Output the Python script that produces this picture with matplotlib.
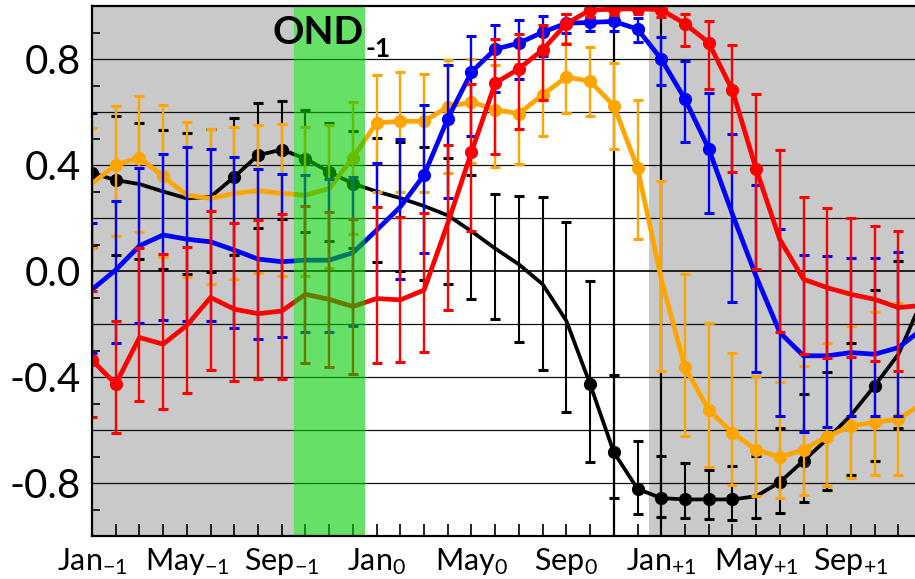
import numpy as np
import matplotlib
matplotlib.use("Agg")
import matplotlib.pyplot as plt

plt.rcParams['font.family'] = ['Lato', 'DejaVu Sans']
plt.rcParams['mathtext.fontset'] = 'custom'
plt.rcParams['mathtext.rm'] = 'Lato'
plt.rcParams['mathtext.it'] = 'Lato:italic'
plt.rcParams['mathtext.bf'] = 'Lato:bold'

# month axis: 0 = Jan(-1) ... 35 = Dec(+1)
tick_months = [0, 4, 8, 12, 16, 20, 24, 28, 32]
tick_labels = ['Jan$_{-1}$', 'May$_{-1}$', 'Sep$_{-1}$',
               'Jan$_{0}$', 'May$_{0}$', 'Sep$_{0}$',
               'Jan$_{+1}$', 'May$_{+1}$', 'Sep$_{+1}$']
y_ticks = [-0.8, -0.4, 0.0, 0.4, 0.8]
y_tick_labels = ['-0.8', '-0.4', '0.0', '0.4', '0.8']

# correlation curves (36 months) with lower/upper confidence bounds (35 months)
black_val = [0.37, 0.343, 0.328, 0.30, 0.274, 0.28, 0.355, 0.437, 0.458, 0.424,
             0.374, 0.33, 0.30, 0.275, 0.245, 0.21, 0.15, 0.085, 0.025, -0.05,
             -0.188, -0.427, -0.684, -0.822, -0.857, -0.862, -0.862, -0.862, -0.85, -0.797,
             -0.716, -0.634, -0.544, -0.433, -0.314, -0.11]
black_lo = [0.09, 0.06, 0.045, 0.006, -0.01, -0.003, 0.06, 0.161, 0.195, 0.148,
            0.114, 0.085, 0.035, 0.001, -0.035, -0.05, -0.107, -0.182, -0.267, -0.373,
            -0.531, -0.72, -0.857, -0.917, -0.929, -0.933, -0.935, -0.938, -0.933, -0.913,
            -0.873, -0.825, -0.77, -0.717, -0.594]
black_hi = [0.596, 0.584, 0.56, 0.531, 0.519, 0.537, 0.579, 0.634, 0.641, 0.606,
            0.56, 0.527, 0.503, 0.485, 0.468, 0.427, 0.362, 0.291, 0.282, 0.28,
            0.186, -0.038, -0.391, -0.643, -0.699, -0.724, -0.75, -0.734, -0.697, -0.594,
            -0.466, -0.38, -0.27, -0.073, 0.038]
black_sig = [0, 1, 6, 7, 8, 9, 10, 11, 21, 22, 23, 24, 25, 26, 27, 29, 30, 33]

orange_val = [0.33, 0.40, 0.428, 0.357, 0.286, 0.274, 0.293, 0.303, 0.293, 0.286,
              0.311, 0.428, 0.559, 0.565, 0.565, 0.619, 0.638, 0.609, 0.594, 0.665,
              0.732, 0.716, 0.624, 0.389, -0.03, -0.364, -0.524, -0.611, -0.674, -0.703,
              -0.674, -0.625, -0.584, -0.571, -0.559, -0.50]
orange_lo = [0.085, 0.133, 0.148, 0.054, -0.021, -0.049, -0.03, -0.009, -0.018, -0.02,
             0.01, 0.139, 0.30, 0.30, 0.297, 0.368, 0.408, 0.392, 0.402, 0.508,
             0.596, 0.584, 0.462, 0.119, -0.377, -0.621, -0.741, -0.807, -0.85, -0.857,
             -0.845, -0.81, -0.781, -0.77, -0.77]
orange_hi = [0.54, 0.621, 0.66, 0.625, 0.562, 0.537, 0.544, 0.55, 0.554, 0.544,
             0.55, 0.638, 0.741, 0.75, 0.742, 0.795, 0.80, 0.778, 0.78, 0.82,
             0.86, 0.847, 0.785, 0.647, 0.339, -0.011, -0.195, -0.308, -0.398, -0.418,
             -0.36, -0.272, -0.207, -0.154, -0.122]
orange_sig = [1, 2, 3, 11, 12, 13, 14, 15, 16, 17, 18, 19, 20, 21, 22, 23,
              25, 26, 27, 28, 29, 30, 31, 32, 33, 34]

blue_val = [-0.07, 0.004, 0.095, 0.136, 0.12, 0.11, 0.079, 0.045, 0.035, 0.041,
            0.041, 0.069, 0.154, 0.242, 0.362, 0.575, 0.751, 0.837, 0.86, 0.901,
            0.935, 0.938, 0.942, 0.913, 0.80, 0.649, 0.462, 0.215, -0.02, -0.232,
            -0.32, -0.32, -0.308, -0.314, -0.289, -0.22]
blue_lo = [-0.31, -0.27, -0.195, -0.185, -0.19, -0.19, -0.216, -0.255, -0.25, -0.232,
           -0.232, -0.207, -0.10, -0.03, 0.069, 0.276, 0.508, 0.674, 0.724, 0.81,
           0.898, 0.904, 0.906, 0.864, 0.703, 0.486, 0.22, -0.116, -0.38, -0.549,
           -0.609, -0.59, -0.549, -0.549, -0.549]
blue_hi = [0.18, 0.264, 0.39, 0.443, 0.468, 0.462, 0.43, 0.384, 0.365, 0.362,
           0.349, 0.355, 0.406, 0.497, 0.625, 0.776, 0.885, 0.929, 0.948, 0.964,
           0.97, 0.96, 0.963, 0.954, 0.883, 0.791, 0.672, 0.517, 0.326, 0.157,
           0.06, 0.056, 0.05, 0.048, 0.072]
blue_sig = list(range(14, 27))

red_val = [-0.336, -0.427, -0.251, -0.276, -0.205, -0.10, -0.144, -0.161, -0.151, -0.088,
           -0.107, -0.134, -0.104, -0.109, -0.072, 0.18, 0.449, 0.709, 0.763, 0.835,
           0.933, 0.985, 0.988, 0.99, 0.986, 0.933, 0.862, 0.682, 0.385, 0.119,
           -0.031, -0.063, -0.088, -0.107, -0.138, -0.13]
red_lo = [-0.552, -0.613, -0.491, -0.521, -0.462, -0.374, -0.416, -0.406, -0.406, -0.348,
          -0.364, -0.39, -0.348, -0.343, -0.305, -0.147, 0.151, 0.443, 0.534, 0.647,
          0.857, 0.96, 0.965, 0.97, 0.96, 0.85, 0.687, 0.373, 0.006, -0.23,
          -0.314, -0.33, -0.323, -0.339, -0.377]
red_hi = [-0.075, -0.188, 0.088, 0.063, 0.092, 0.227, 0.18, 0.192, 0.215, 0.245,
          0.223, 0.198, 0.24, 0.205, 0.22, 0.475, 0.704, 0.875, 0.894, 0.929,
          0.97, 0.995, 0.996, 0.998, 0.996, 0.97, 0.942, 0.851, 0.669, 0.456,
          0.279, 0.239, 0.20, 0.169, 0.151]
red_sig = [0, 1] + list(range(16, 29))

series = [
    ('black', black_val, black_lo, black_hi, black_sig, 2.7, 1.5),
    ('#ffa500', orange_val, orange_lo, orange_hi, orange_sig, 3.4, 1.7),
    ('#0000ff', blue_val, blue_lo, blue_hi, blue_sig, 3.4, 1.7),
    ('#ff0000', red_val, red_lo, red_hi, red_sig, 3.4, 1.7),
]

fig = plt.figure(figsize=(9.15, 5.79), dpi=100)
ax = fig.add_axes([92 / 915, 1 - 536 / 579, 1 - 92 / 915, 530 / 579])
ax.set_xlim(0, 34.7)
ax.set_ylim(-1, 1)

# background shading and reference lines
ax.axvspan(-1, 8.5, color='#c9c9c9', lw=0, zorder=0)
ax.axvspan(23.5, 40, color='#c9c9c9', lw=0, zorder=0)
for g in np.arange(-0.8, 0.81, 0.2):
    ax.axhline(g, color='#111111', lw=1.3 if abs(g) < 1e-9 else 0.9, zorder=1)
ax.axvline(22, color='black', lw=1.6, zorder=1.2)
ax.axvline(24, color='black', lw=1.6, zorder=1.2)

for k, (col, val, lo, hi, sig, lw, elw) in enumerate(series):
    val = np.asarray(val)
    lo = np.asarray(lo)
    hi = np.asarray(hi)
    x = np.arange(len(val))
    xe = np.arange(len(lo))
    z = 3 + k
    ax.errorbar(xe, val[:len(lo)], yerr=[val[:len(lo)] - lo, hi - val[:len(lo)]],
                fmt='none', ecolor=col, elinewidth=elw, capsize=3.8, capthick=2.2,
                zorder=z)
    ax.plot(x, val, color=col, lw=lw, zorder=z + 0.1, solid_capstyle='round')
    ax.plot(x[sig], val[sig], 'o', color=col, ms=9.5, mew=0, zorder=z + 0.2)

# OND(-1) season band
ax.axvspan(8.5, 11.5, color=(0, 0.8, 0), alpha=0.6, lw=0, zorder=10)
ax.text(11.45, 0.855, 'OND', ha='right', va='baseline', fontsize=28,
        fontweight='bold', zorder=11)
ax.text(11.55, 0.808, '-1', ha='left', va='baseline', fontsize=19,
        fontweight='bold', zorder=11)

ax.set_xticks(tick_months)
ax.set_xticklabels(tick_labels, fontsize=22)
ax.set_xticks(np.arange(0, 35), minor=True)
ax.tick_params(axis='x', which='both', direction='in', length=9, width=1.2,
               pad=7, top=False)

ax.set_yticks(y_ticks)
ax.set_yticklabels(y_tick_labels, fontsize=29)
ax.set_yticks([-0.9, -0.7, -0.5, -0.3, -0.1, 0.1, 0.3, 0.5, 0.7, 0.9], minor=True)
ax.tick_params(axis='y', which='major', length=0, pad=8)
ax.tick_params(axis='y', which='minor', direction='in', length=6, width=1.2)

for side in ['left', 'bottom', 'top']:
    ax.spines[side].set_linewidth(1.6)
    ax.spines[side].set_zorder(20)
ax.spines['right'].set_visible(False)

fig.savefig('out.png', dpi=100)
